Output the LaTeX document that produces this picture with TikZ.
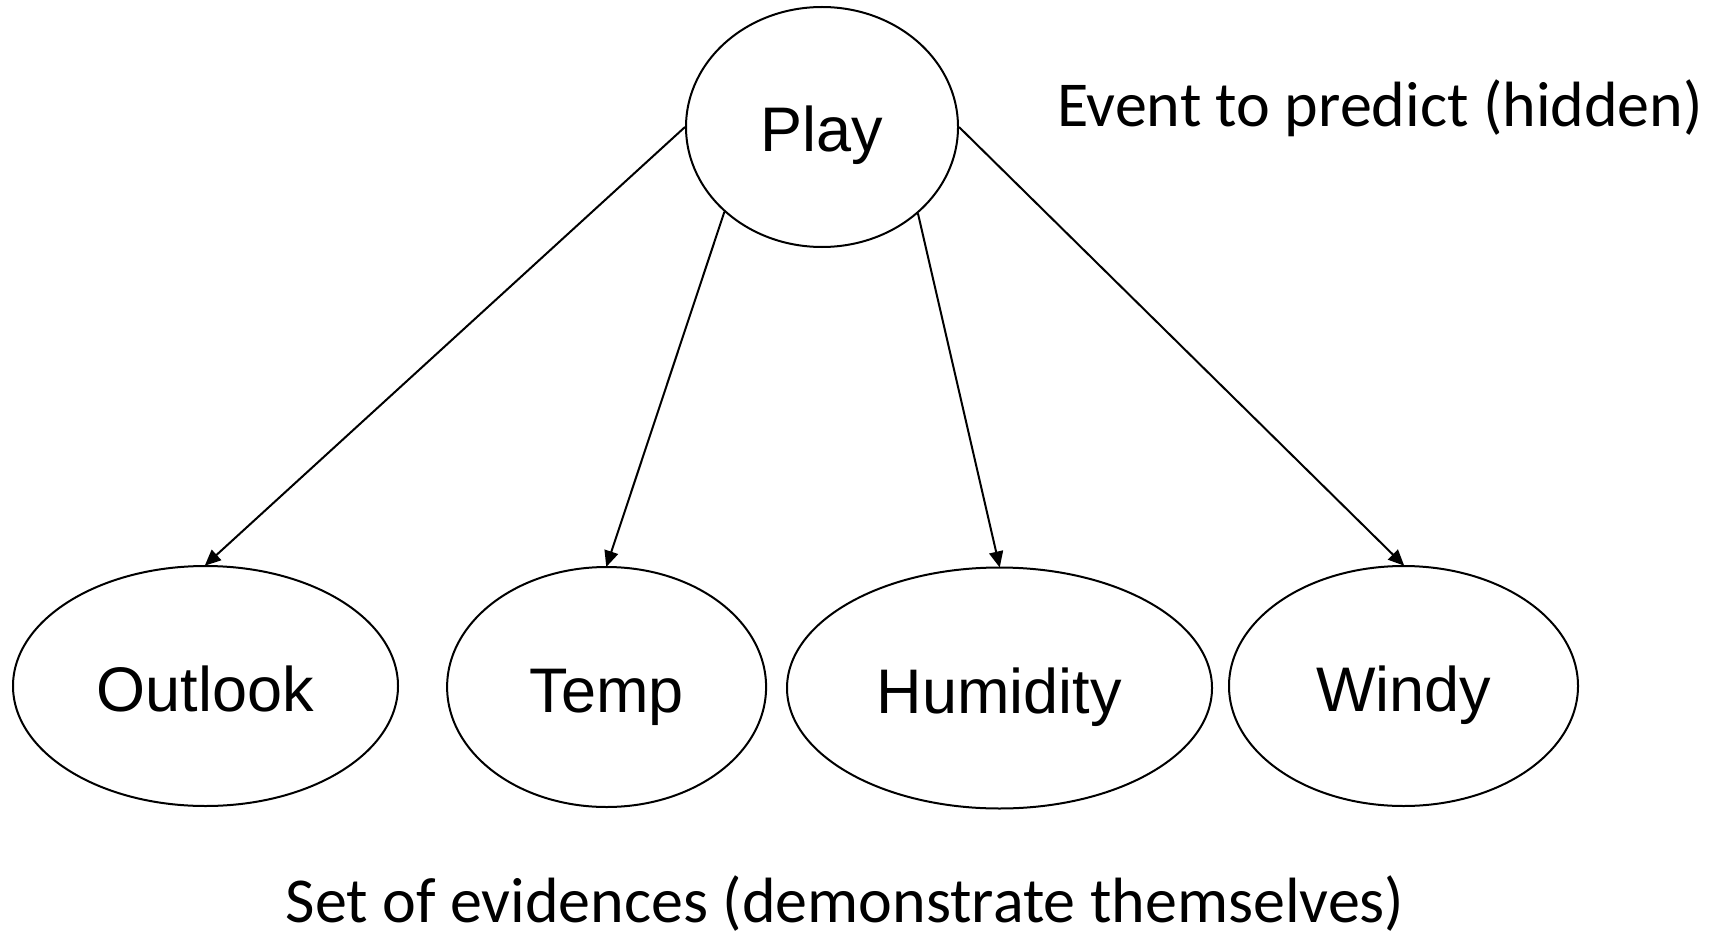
\documentclass[tikz,border=0pt]{standalone}
\usepackage{fontspec}
\setmainfont{Carlito}
\newfontfamily\arialf{Liberation Sans}
\usetikzlibrary{shapes.geometric,arrows.meta}
\begin{document}
\begin{tikzpicture}[x=1pt,y=-1pt,
  var/.style={ellipse,draw,line width=2pt,inner sep=0pt,minimum height=240pt,
    font=\arialf\fontsize{63}{70}\selectfont,text height=50pt,text depth=0pt},
  link/.style={line width=2pt,-{Triangle[length=16pt,width=14pt]},shorten >=-1pt},
  note/.style={anchor=base,inner sep=0pt,font=\fontsize{64}{72}\selectfont}]
\useasboundingbox (0,0) rectangle (1723,936);
\node[var,minimum width=272pt] (play) at (822,127) {Play};
\node[var,minimum width=385pt] (outlook) at (205.5,686) {Outlook};
\node[var,minimum width=319pt] (temp) at (606.6,687) {Temp};
\node[var,minimum width=425pt,minimum height=241pt] (hum) at (999.5,688) {Humidity};
\node[var,minimum width=349pt] (windy) at (1403.5,686) {Windy};
\node[note] (ev) at (1380,127) {Event to predict (hidden)};
\node[note] (set) at (845,922) {Set of evidences (demonstrate themselves)};
\draw[link] (play.west) -- (outlook.north);
\draw[link] (play.221.3) -- (temp.north);
\draw[link] (play.318.7) -- (hum.north);
\draw[link] (play.east) -- (windy.north);
\end{tikzpicture}
\end{document}
